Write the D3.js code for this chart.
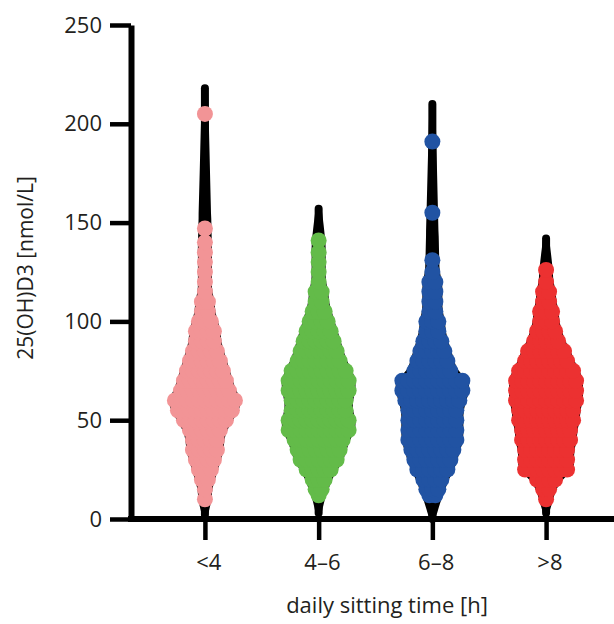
<!DOCTYPE html>
<html>
<head>
<meta charset="utf-8">
<script src="https://cdn.jsdelivr.net/npm/d3@7"></script>
<style>
  html, body { margin: 0; padding: 0; background: #fff; }
  svg { display: block; }
  text { font-family: "Open Sans", "Noto Sans", sans-serif; fill: #231f20; }
</style>
</head>
<body>
<script>
// ---- data ----
const categories = ["<4", "4–6", "6–8", ">8"];
const colors = ["#f29496", "#63bb49", "#2153a3", "#ec3131"];
const yTicks = [0, 50, 100, 150, 200, 250];

// [value, count] rows of the dot swarm
const swarmLt4 = [[10,1],[15,1],[20,2],[25,3],[30,4],[35,5],[40,5],[45,6],[50,8],[55,10],[60,11],[65,9],[70,8],[75,7],[80,6],[85,5],[90,4],[95,4],[100,3],[105,2],[110,2],[115,1],[120,1],[125,1],[130,1],[135,1],[140,1]];
const swarm4to6 = [[12,1],[15,2],[20,3],[25,5],[30,7],[35,8],[40,9],[45,11],[50,11],[55,10],[60,10],[65,11],[70,11],[75,10],[80,8],[85,7],[90,6],[95,5],[100,4],[105,3],[110,2],[115,2],[120,1],[125,1],[130,1],[135,1],[141,1]];
const swarm6to8 = [[12,2],[15,3],[20,4],[25,6],[30,7],[35,8],[40,9],[45,9],[50,9],[55,9],[60,10],[65,11],[70,11],[75,7],[80,6],[85,5],[90,4],[95,3],[100,3],[105,2],[110,2],[115,2],[120,2],[125,1],[131,1]];
const swarmGt8 = [[10,1],[15,2],[20,4],[25,8],[30,8],[35,8],[40,9],[45,9],[50,10],[55,10],[60,11],[65,11],[70,11],[75,10],[80,8],[85,7],[90,5],[95,4],[100,3],[105,3],[110,2],[115,2],[120,1],[126,1]];
const outliers = [[147, 205], [], [155, 191], []];
const minValues = [2, 3, 0, 3];
const maxValues = [218, 157, 210, 142];

const swarms = [swarmLt4, swarm4to6, swarm6to8, swarmGt8];

// ---- layout ----
const W = 614, H = 624;
const svg = d3.select("body").append("svg").attr("width", W).attr("height", H);

const y = d3.scaleLinear().domain([0, 250]).range([519, 25]);
const x = d3.scalePoint().domain(categories).range([131, 620]).padding(0.65);

const R = 8, STEP = 6;
// half-width (px) of a row holding n dots
const rowHalf = n => R + (n - 1) * STEP / 2;

const g = svg.append("g");

// violins (black)
categories.forEach((c, i) => {
  const rows = swarms[i];
  const pts = [[minValues[i], 3]]
    .concat(rows.map(([v, n]) => [v, Math.max(4, rowHalf(n) - 1)]))
    .concat([[maxValues[i], 3]]);
  const area = d3.area()
    .y(d => y(d[0]))
    .x0(d => x(c) - d[1])
    .x1(d => x(c) + d[1])
    .curve(d3.curveBasis);
  g.append("path").attr("d", area(pts)).attr("fill", "#000");
  g.append("line")
    .attr("x1", x(c)).attr("x2", x(c))
    .attr("y1", y(minValues[i])).attr("y2", y(maxValues[i]))
    .attr("stroke", "#000").attr("stroke-width", 8).attr("stroke-linecap", "round");
});

// dots
categories.forEach((c, i) => {
  const pts = [];
  swarms[i].forEach(([v, n]) => {
    for (let k = 0; k < n; k++) pts.push({ v, off: (k - (n - 1) / 2) * STEP });
  });
  outliers[i].forEach(v => pts.push({ v, off: 0 }));
  g.selectAll(null).data(pts).enter().append("circle")
    .attr("cx", d => x(c) + d.off)
    .attr("cy", d => y(d.v))
    .attr("r", R)
    .attr("fill", colors[i]);
});

// y axis
const yAxis = svg.append("g").attr("transform", `translate(131,0)`)
  .call(d3.axisLeft(y).tickValues(yTicks).tickSize(21).tickSizeOuter(0).tickPadding(8));
yAxis.select(".domain").attr("stroke", "#000").attr("stroke-width", 6);
yAxis.selectAll(".tick line").attr("stroke", "#000").attr("stroke-width", 4.5);
yAxis.selectAll(".tick text").attr("font-size", 22).attr("fill", "#231f20")
  .style("font-family", "'Open Sans', sans-serif");

// x axis
const xAxis = svg.append("g").attr("transform", `translate(0,519)`)
  .call(d3.axisBottom(x).tickSize(21).tickSizeOuter(0).tickPadding(14));
xAxis.select(".domain").attr("d", `M128,0H${W}`).attr("stroke", "#000").attr("stroke-width", 6);
xAxis.selectAll(".tick line").attr("stroke", "#000").attr("stroke-width", 4.5);
xAxis.selectAll(".tick text").attr("font-size", 22).attr("fill", "#231f20")
  .attr("dx", "0.15em")
  .style("font-family", "'Open Sans', sans-serif");

// titles
svg.append("text")
  .attr("transform", "translate(33,268) rotate(-90)")
  .attr("text-anchor", "middle")
  .attr("font-size", 21)
  .text("25(OH)D3 [nmol/L]");

svg.append("text")
  .attr("x", 387).attr("y", 613)
  .attr("text-anchor", "middle")
  .attr("font-size", 22)
  .text("daily sitting time [h]");
</script>
</body>
</html>
